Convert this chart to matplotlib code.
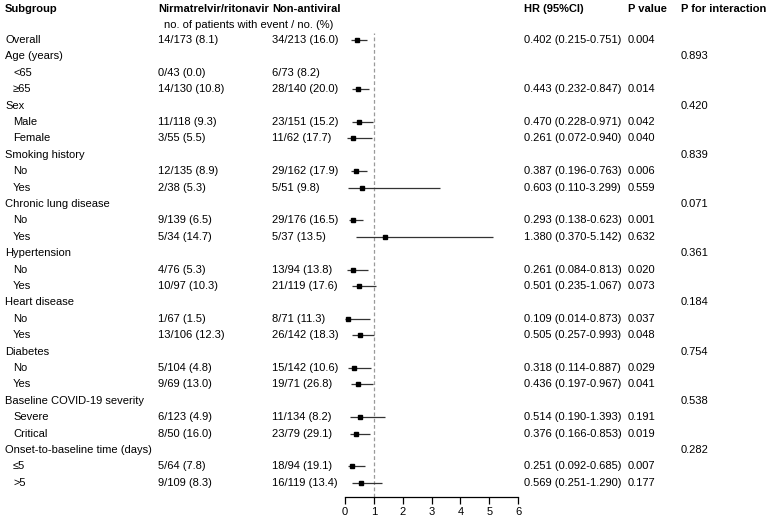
import numpy as np
import matplotlib
matplotlib.use("Agg")
import matplotlib.pyplot as plt
from matplotlib.transforms import blended_transform_factory

plt.rcParams['font.family'] = ['Liberation Sans', 'DejaVu Sans']

# rows of the table (top to bottom)
labels = ["Overall", "Age (years)", "<65", "≥65", "Sex", "Male", "Female",
          "Smoking history", "No", "Yes", "Chronic lung disease", "No", "Yes",
          "Hypertension", "No", "Yes", "Heart disease", "No", "Yes",
          "Diabetes", "No", "Yes", "Baseline COVID-19 severity", "Severe", "Critical",
          "Onset-to-baseline time (days)", "≤5", ">5"]
indent = [0, 0, 1, 1, 0, 1, 1, 0, 1, 1, 0, 1, 1, 0, 1, 1, 0, 1, 1,
          0, 1, 1, 0, 1, 1, 0, 1, 1]
nirm = ["14/173 (8.1)", "", "0/43 (0.0)", "14/130 (10.8)", "", "11/118 (9.3)", "3/55 (5.5)",
        "", "12/135 (8.9)", "2/38 (5.3)", "", "9/139 (6.5)", "5/34 (14.7)",
        "", "4/76 (5.3)", "10/97 (10.3)", "", "1/67 (1.5)", "13/106 (12.3)",
        "", "5/104 (4.8)", "9/69 (13.0)", "", "6/123 (4.9)", "8/50 (16.0)",
        "", "5/64 (7.8)", "9/109 (8.3)"]
nonav = ["34/213 (16.0)", "", "6/73 (8.2)", "28/140 (20.0)", "", "23/151 (15.2)", "11/62 (17.7)",
         "", "29/162 (17.9)", "5/51 (9.8)", "", "29/176 (16.5)", "5/37 (13.5)",
         "", "13/94 (13.8)", "21/119 (17.6)", "", "8/71 (11.3)", "26/142 (18.3)",
         "", "15/142 (10.6)", "19/71 (26.8)", "", "11/134 (8.2)", "23/79 (29.1)",
         "", "18/94 (19.1)", "16/119 (13.4)"]
nan = np.nan
hr = [0.402, nan, nan, 0.443, nan, 0.470, 0.261, nan, 0.387, 0.603, nan, 0.293, 1.380,
      nan, 0.261, 0.501, nan, 0.109, 0.505, nan, 0.318, 0.436, nan, 0.514, 0.376,
      nan, 0.251, 0.569]
lo = [0.215, nan, nan, 0.232, nan, 0.228, 0.072, nan, 0.196, 0.110, nan, 0.138, 0.370,
      nan, 0.084, 0.235, nan, 0.014, 0.257, nan, 0.114, 0.197, nan, 0.190, 0.166,
      nan, 0.092, 0.251]
hi = [0.751, nan, nan, 0.847, nan, 0.971, 0.940, nan, 0.763, 3.299, nan, 0.623, 5.142,
      nan, 0.813, 1.067, nan, 0.873, 0.993, nan, 0.887, 0.967, nan, 1.393, 0.853,
      nan, 0.685, 1.290]
pval = ["0.004", "", "", "0.014", "", "0.042", "0.040", "", "0.006", "0.559", "", "0.001", "0.632",
        "", "0.020", "0.073", "", "0.037", "0.048", "", "0.029", "0.041", "", "0.191", "0.019",
        "", "0.007", "0.177"]
pint = ["", "0.893", "", "", "0.420", "", "", "0.839", "", "", "0.071", "", "",
        "0.361", "", "", "0.184", "", "", "0.754", "", "", "0.538", "", "",
        "0.282", "", ""]
xticks = [0, 1, 2, 3, 4, 5, 6]

W, H = 767, 518
fig = plt.figure(figsize=(W / 100, H / 100), dpi=100)
ax = fig.add_axes([345 / W, (H - 497) / H, 173 / W, 497 / H])

n = len(labels)
y = np.arange(n)
step = 16.4
ax.set_xlim(0, 6)
ax.set_ylim((497 - 40) / step, -40 / step)

# reference line at HR = 1
ax.plot([1, 1], [ax.get_ylim()[0], -0.45], ls=(0, (3, 2)), color="#9a9a9a", lw=0.9, zorder=1)

hr_a = np.array(hr); lo_a = np.array(lo); hi_a = np.array(hi)
ok = ~np.isnan(hr_a)
ax.hlines(y[ok], lo_a[ok], hi_a[ok], color="#333333", lw=0.9, zorder=2)
ax.plot(hr_a[ok], y[ok], "s", color="black", ms=3, zorder=3)

for s in ["top", "right", "left"]:
    ax.spines[s].set_visible(False)
ax.spines["bottom"].set_linewidth(0.9)
ax.set_yticks([])
ax.set_xticks(xticks)
ax.tick_params(axis="x", length=5, width=0.9, labelsize=8, pad=2)
ax.patch.set_alpha(0)

tr = blended_transform_factory(fig.transFigure, ax.transData)
fs = 8


def fx(px):
    return px / W


for i in range(n):
    ax.text(fx(5 if indent[i] == 0 else 13), y[i], labels[i], transform=tr,
            fontsize=fs, va="center", ha="left")
    if nirm[i]:
        ax.text(fx(158), y[i], nirm[i], transform=tr, fontsize=fs, va="center")
    if nonav[i]:
        ax.text(fx(272), y[i], nonav[i], transform=tr, fontsize=fs, va="center")
    if ok[i]:
        ax.text(fx(524), y[i], f"{hr[i]:.3f} ({lo[i]:.3f}-{hi[i]:.3f})",
                transform=tr, fontsize=fs, va="center")
    if pval[i]:
        ax.text(fx(628), y[i], pval[i], transform=tr, fontsize=fs, va="center")
    if pint[i]:
        ax.text(fx(681), y[i], pint[i], transform=tr, fontsize=fs, va="center")

hy = -31 / step
headers = [(5, "Subgroup"), (158, "Nirmatrelvir/ritonavir"), (272, "Non-antiviral"),
           (524, "HR (95%CI)"), (628, "P value"), (681, "P for interaction")]
for px, t in headers:
    ax.text(fx(px), hy, t, transform=tr, fontsize=fs, va="center", fontweight="bold")
ax.text(fx(164), -15 / step, "no. of patients with event / no. (%)", transform=tr,
        fontsize=fs, va="center")

fig.savefig("out.png", dpi=100)
